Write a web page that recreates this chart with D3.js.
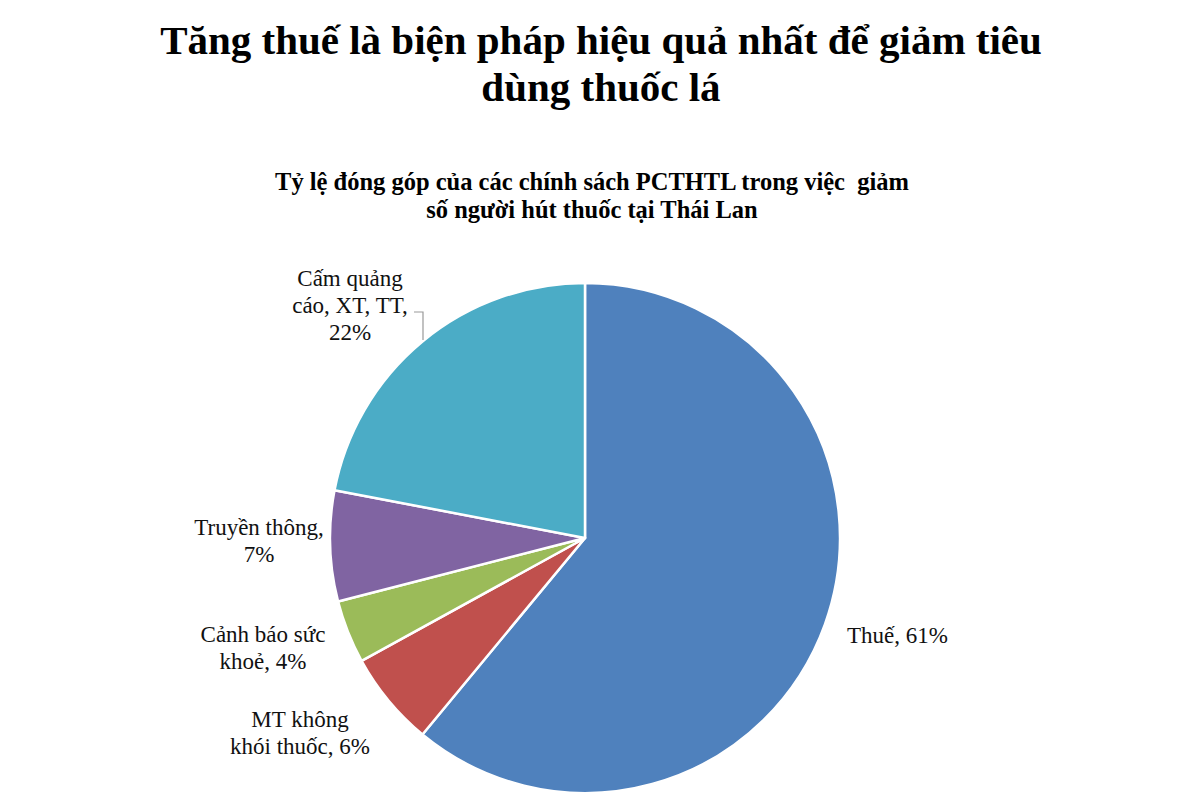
<!DOCTYPE html>
<html><head><meta charset="utf-8">
<script src="https://cdn.jsdelivr.net/npm/d3@7/dist/d3.min.js"></script>
<style>body{margin:0;background:#fff}svg{display:block}text{font-family:"Liberation Serif","Times New Roman",serif}</style>
</head><body>
<script>
const categories = ["Thuế", "MT không khói thuốc", "Cảnh báo sức khoẻ", "Truyền thông", "Cấm quảng cáo, XT, TT"];
const values = [61, 6, 4, 7, 22];
const colors = ["#4F81BD", "#C0504D", "#9BBB59", "#8064A2", "#4BACC6"];
const labelLines = [
  ["Thuế, 61%"],
  ["MT không", "khói thuốc, 6%"],
  ["Cảnh báo sức", "khoẻ, 4%"],
  ["Truyền thông,", "7%"],
  ["Cấm quảng", "cáo, XT, TT,", "22%"]
];
const titleLines = ["Tăng thuế là biện pháp hiệu quả nhất để giảm tiêu", "dùng thuốc lá"];
const subtitleLines = ["Tỷ lệ đóng góp của các chính sách PCTHTL trong việc  giảm", "số người hút thuốc tại Thái Lan"];

const W = 1200, H = 811;
const svg = d3.select("body").append("svg").attr("width", W).attr("height", H);

svg.append("text").attr("x", 601).attr("y", 54).attr("text-anchor", "middle")
  .style("font-weight", "bold").style("font-size", "41px")
  .selectAll("tspan").data(titleLines).join("tspan")
  .attr("x", 601).attr("dy", (d, i) => i ? 47 : 0).text(d => d);

svg.append("text").attr("x", 592).attr("y", 190).attr("text-anchor", "middle")
  .style("font-weight", "bold").style("font-size", "24.5px")
  .style("white-space", "pre")
  .selectAll("tspan").data(subtitleLines).join("tspan")
  .attr("x", 592).attr("dy", (d, i) => i ? 28 : 0).text(d => d);

const cx = 585, cy = 538, R = 255;
const pie = d3.pie().sort(null).value(d => d)(values);
const arc = d3.arc().innerRadius(0).outerRadius(R);
const g = svg.append("g").attr("transform", `translate(${cx},${cy})`);
g.selectAll("path").data(pie).join("path")
  .attr("d", arc).attr("fill", (d, i) => colors[i])
  .attr("stroke", "#fff").attr("stroke-width", 2.5).attr("stroke-linejoin", "round");

const labelPos = [
  {x: 262, y: 105, anchor: "start"},
  {x: -285, y: 189, anchor: "middle"},
  {x: -322, y: 104, anchor: "middle"},
  {x: -326, y: -3, anchor: "middle"},
  {x: -235, y: -252, anchor: "middle"}
];
const lh = 27;
labelLines.forEach((lines, i) => {
  const p = labelPos[i];
  svg.append("text").style("font-size", "23px").attr("fill", "#111")
    .attr("text-anchor", p.anchor)
    .selectAll("tspan").data(lines).join("tspan")
    .attr("x", cx + p.x).attr("y", (d, j) => cy + p.y + j * lh).text(d => d);
});

// leader line for the "Cấm quảng cáo" label
svg.append("polyline")
  .attr("points", [[cx - 171, cy - 226], [cx - 162, cy - 226], [cx - 162, cy - 198]].map(p => p.join(",")).join(" "))
  .attr("fill", "none").attr("stroke", "#999").attr("stroke-width", 1.2);
</script>
</body></html>
